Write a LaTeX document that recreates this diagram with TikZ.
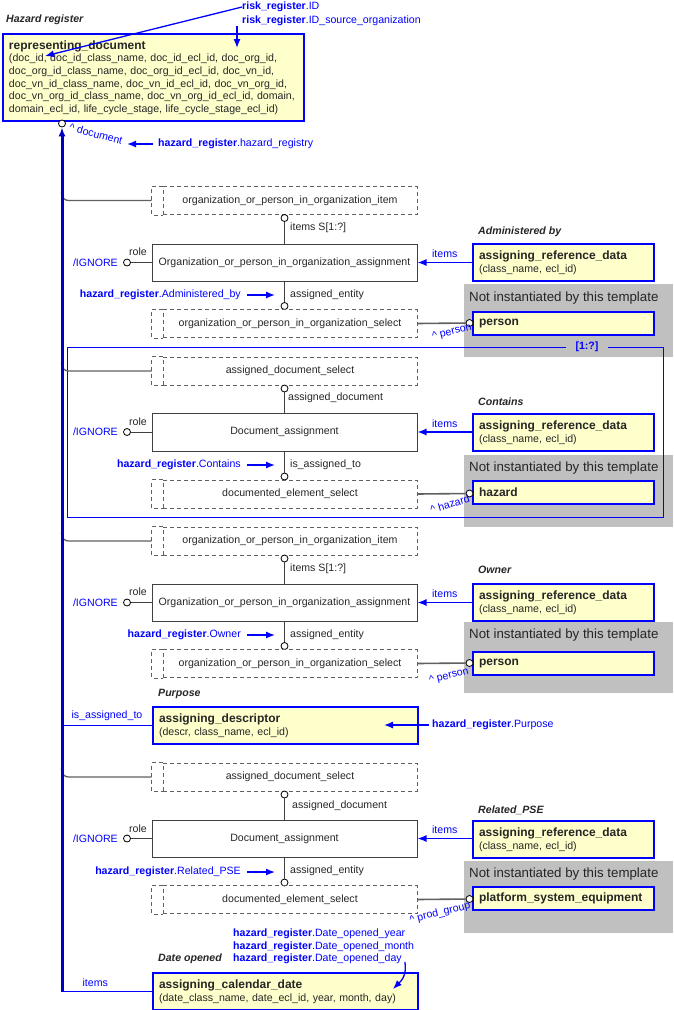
\documentclass[tikz,border=0pt]{standalone}
\usepackage{fontspec}
\setmainfont{Liberation Sans}
\usetikzlibrary{positioning,arrows.meta}
\definecolor{noteyellow}{HTML}{FFFFCC}
\definecolor{notgray}{HTML}{C0C0C0}
\definecolor{linegray}{HTML}{606060}
\newcommand{\hdr}[1]{{\fontsize{12}{14}\selectfont\bfseries #1}}
\newcommand{\reg}{\textbf{hazard\_register}}

\begin{document}
\begin{tikzpicture}[x=1pt, y=-1pt,
    every node/.style={font=\fontsize{10.6}{12.6}\selectfont, inner sep=0pt, text=black!85},
    ybox/.style={draw=blue, line width=2pt, fill=noteyellow, anchor=north west, align=left, inner xsep=6pt},
    selbox/.style={draw=linegray, dash pattern=on 4pt off 3pt, line width=1pt, minimum width=254pt, minimum height=28pt},
    selline/.style={draw=linegray, dash pattern=on 4pt off 3pt, line width=1pt},
    abox/.style={draw=black!75, line width=1pt, minimum width=265pt, minimum height=37pt},
    notbox/.style={fill=notgray, anchor=north west, minimum width=209pt},
    nottext/.style={anchor=west, font=\fontsize{13.3}{15}\selectfont},
    dot/.style={circle, draw=black, fill=white, line width=0.8pt, minimum size=7pt},
    ttl/.style={anchor=west, font=\fontsize{10.6}{12.6}\selectfont\bfseries\itshape},
    lbl/.style={anchor=west},
    blbl/.style={text=blue},
    rel/.style={draw=black!75, line width=1pt},
    side/.style={draw=linegray, line width=1.6pt},
    branch/.style={draw=linegray, line width=1.3pt, rounded corners=7pt},
    bline/.style={draw=blue, line width=1.3pt},
    vline/.style={draw=blue!75!black, line width=3pt},
    barrow/.style={draw=blue, line width=1.3pt, -{Latex[length=9pt,width=7pt]}},
]
\useasboundingbox (0,0) rectangle (673,1010);

\node[ttl] (hztitle) at (6,20) {Hazard register};
\node[ybox, text width=289pt, minimum height=87pt] (repdoc) at (2,33) {\hdr{representing\_document}\\(doc\_id, doc\_id\_class\_name, doc\_id\_ecl\_id, doc\_org\_id,\\doc\_org\_id\_class\_name, doc\_org\_id\_ecl\_id, doc\_vn\_id,\\doc\_vn\_id\_class\_name, doc\_vn\_id\_ecl\_id, doc\_vn\_org\_id,\\doc\_vn\_org\_id\_class\_name, doc\_vn\_org\_id\_ecl\_id, domain,\\domain\_ecl\_id, life\_cycle\_stage, life\_cycle\_stage\_ecl\_id)};
\node[lbl, blbl] (rrid) at (242,7) {\textbf{risk\_register}.ID};
\node[lbl, blbl] (rrsrc) at (242,20.5) {\textbf{risk\_register}.ID\_source\_organization};
\coordinate (docid) at (45,56);
\coordinate (srcorg) at (237,48);
\draw[barrow] (rrid.west) -- (docid);
\draw[barrow] (rrsrc.south west -| srcorg) -- (srcorg);

\node[dot] (docend) at (62,123.5) {};
\node[blbl, rotate=-15] (doclbl) at (96,134) {\textasciicircum\ document};
\node[lbl, blbl] (hreg) at (158,144) {\reg.hazard\_registry};
\draw[barrow] ([xshift=-5pt]hreg.west) -- ([xshift=-31pt]hreg.west);

\node[selbox] (item1) at (290,200.5) {organization\_or\_person\_in\_organization\_item};
\node[dot] (item1c) at (284.5,218) {};
\node[lbl] at (290,228) {items S[1:?]};
\node[abox] (ooa1) at (284.5,262.5) {Organization\_or\_person\_in\_organization\_assignment};
\draw[rel] (item1c) -- (ooa1);
\node[dot] (role1c) at (127,262.5) {};
\node[lbl] at (129,252) {role};
\node[lbl, anchor=east, blbl] at (118,262.5) {/IGNORE};
\draw[rel] (role1c) -- (ooa1);
\node[ttl] at (478,232) {Administered by};
\node[ybox, text width=169pt, minimum height=37pt] (ard1) at (472,243) {\hdr{assigning\_reference\_data}\\(class\_name, ecl\_id)};
\draw[barrow] (ard1.west |- ooa1) -- (ooa1.east) node[midway, above=4pt, blbl] {items};
\node[lbl, anchor=east, blbl] (hadm) at (241,295) {\reg.Administered\_by};
\draw[barrow] ([xshift=6pt]hadm.east) -- ([xshift=34pt]hadm.east);
\node[lbl] at (290,295) {assigned\_entity};
\node[dot] (sel1c) at (284.5,306) {};
\draw[rel] (ooa1) -- (sel1c);
\node[selbox] (sel1) at (290,323.5) {organization\_or\_person\_in\_organization\_select};
\node[notbox, minimum height=73pt] (ni1) at (464,284) {};
\node[nottext] at ([xshift=5pt,yshift=-14pt]ni1.north west) {Not instantiated by this template};
\node[ybox, text width=169pt, minimum height=23pt] (pers1) at (472,311) {\hdr{person}};
\node[dot] (pers1c) at (469.5,323) {};
\draw[side] (sel1.east) -- (pers1c);
\node[blbl, rotate=14] at (452,332) {\textasciicircum\ person};

\node[selbox] (ads1) at (290,371) {assigned\_document\_select};
\node[dot] (ads1c) at (284.5,388.5) {};
\node[lbl] at (288,398) {assigned\_document};
\node[abox, minimum height=38pt] (da1) at (284.5,432) {Document\_assignment};
\draw[rel] (ads1c) -- (da1);
\node[dot] (role2c) at (127,432) {};
\node[lbl] at (129,422) {role};
\node[lbl, anchor=east, blbl] at (118,432) {/IGNORE};
\draw[rel] (role2c) -- (da1);
\node[ttl] at (478,402) {Contains};
\node[ybox, text width=169pt, minimum height=37pt] (ard2) at (472,413) {\hdr{assigning\_reference\_data}\\(class\_name, ecl\_id)};
\draw[barrow] (ard2.west |- da1) -- (da1.east) node[midway, above=4pt, blbl] {items};
\node[lbl, anchor=east, blbl] (hcon) at (241,465) {\reg.Contains};
\draw[barrow] ([xshift=6pt]hcon.east) -- ([xshift=34pt]hcon.east);
\node[lbl] at (290,465) {is\_assigned\_to};
\node[dot] (des1c) at (284.5,476.5) {};
\draw[rel] (da1) -- (des1c);
\node[selbox] (des1) at (290,494) {documented\_element\_select};
\node[notbox, minimum height=72pt] (ni2) at (464,455) {};
\node[nottext] at ([xshift=5pt,yshift=-13.5pt]ni2.north west) {Not instantiated by this template};
\node[ybox, text width=169pt, minimum height=23pt] (haz) at (472,480) {\hdr{hazard}};
\node[dot] (hazc) at (469.5,493.5) {};
\draw[side] (des1.east) -- (hazc);
\node[blbl, rotate=16] at (450,504) {\textasciicircum\ hazard};

\node[blbl, font=\fontsize{10.6}{12.6}\selectfont\bfseries, inner xsep=9pt] (mult) at (587,347) {[1:?]};
\draw[bline, line width=1pt] (mult.west) -- (67,347) |- (663,517) |- (mult.east);

\node[selbox] (item2) at (290,541) {organization\_or\_person\_in\_organization\_item};
\node[dot] (item2c) at (284.5,558.5) {};
\node[lbl] at (290,569) {items S[1:?]};
\node[abox] (ooa2) at (284.5,602.5) {Organization\_or\_person\_in\_organization\_assignment};
\draw[rel] (item2c) -- (ooa2);
\node[dot] (role3c) at (127,602.5) {};
\node[lbl] at (129,592) {role};
\node[lbl, anchor=east, blbl] at (118,602.5) {/IGNORE};
\draw[rel] (role3c) -- (ooa2);
\node[ttl] at (478,570) {Owner};
\node[ybox, text width=169pt, minimum height=37pt] (ard3) at (472,583) {\hdr{assigning\_reference\_data}\\(class\_name, ecl\_id)};
\draw[barrow] (ard3.west |- ooa2) -- (ooa2.east) node[midway, above=4pt, blbl] {items};
\node[lbl, anchor=east, blbl] (hown) at (241,635) {\reg.Owner};
\draw[barrow] ([xshift=6pt]hown.east) -- ([xshift=34pt]hown.east);
\node[lbl] at (290,635) {assigned\_entity};
\node[dot] (sel2c) at (284.5,646) {};
\draw[rel] (ooa2) -- (sel2c);
\node[selbox] (sel2) at (290,663.5) {organization\_or\_person\_in\_organization\_select};
\node[notbox, minimum height=71pt] (ni4) at (464,622) {};
\node[nottext] at ([xshift=5pt,yshift=-13pt]ni4.north west) {Not instantiated by this template};
\node[ybox, text width=169pt, minimum height=23pt] (pers2) at (472,651) {\hdr{person}};
\node[dot] (pers2c) at (469.5,663) {};
\draw[side] (sel2.east) -- (pers2c);
\node[blbl, rotate=14] at (449,676) {\textasciicircum\ person};

\node[ttl] at (158,694) {Purpose};
\node[ybox, text width=253pt, minimum height=37pt] (purp) at (152,706) {\hdr{assigning\_descriptor}\\(descr, class\_name, ecl\_id)};
\draw[bline] (purp.west -| docend) -- (purp.west) node[midway, above=4pt, blbl] {is\_assigned\_to};
\node[lbl, blbl] (hpur) at (432,725) {\reg.Purpose};
\draw[barrow] ([xshift=-3pt]hpur.west) -- ([xshift=-48pt]hpur.west);

\node[selbox] (ads2) at (290,777) {assigned\_document\_select};
\node[dot] (ads2c) at (284.5,794.5) {};
\node[lbl] at (292,806) {assigned\_document};
\node[abox] (da2) at (284.5,838.5) {Document\_assignment};
\draw[rel] (ads2c) -- (da2);
\node[dot] (role4c) at (127,838.5) {};
\node[lbl] at (129,829) {role};
\node[lbl, anchor=east, blbl] at (118,838.5) {/IGNORE};
\draw[rel] (role4c) -- (da2);
\node[ttl] at (478,810) {Related\_PSE};
\node[ybox, text width=169pt, minimum height=37pt] (ard4) at (472,820) {\hdr{assigning\_reference\_data}\\(class\_name, ecl\_id)};
\draw[barrow] (ard4.west |- da2) -- (da2.east) node[midway, above=4pt, blbl] {items};
\node[lbl, anchor=east, blbl] (hrel) at (241,872) {\reg.Related\_PSE};
\draw[barrow] ([xshift=6pt]hrel.east) -- ([xshift=34pt]hrel.east);
\node[lbl] at (290,871) {assigned\_entity};
\node[dot] (des2c) at (284.5,882.5) {};
\draw[rel] (da2) -- (des2c);
\node[selbox] (des2) at (290,899.5) {documented\_element\_select};
\node[notbox, minimum height=72pt] (ni3) at (464,861) {};
\node[nottext] at ([xshift=5pt,yshift=-13pt]ni3.north west) {Not instantiated by this template};
\node[ybox, text width=169pt, minimum height=23pt] (pse) at (472,886) {\hdr{platform\_system\_equipment}};
\node[dot] (psec) at (469.5,899) {};
\draw[side] (des2.east) -- (psec);
\node[blbl, rotate=14] at (440,913) {\textasciicircum\ prod\_group};

\node[lbl, blbl] (dyear) at (233,934) {\reg.Date\_opened\_year};
\node[lbl, blbl] (dmonth) at (233,946.5) {\reg.Date\_opened\_month};
\node[lbl, blbl] (dday) at (233,959) {\reg.Date\_opened\_day};
\node[ttl] at (158,959) {Date opened};
\node[ybox, text width=253pt, minimum height=37pt] (cal) at (152,972) {\hdr{assigning\_calendar\_date}\\(date\_class\_name, date\_ecl\_id, year, month, day)};
\coordinate (caltip) at (393,989);
\draw[barrow] ([xshift=3pt,yshift=-3pt]dday.east) .. controls +(2,14) and +(8,-8) .. (caltip);

\foreach \n in {item1,sel1,ads1,des1,item2,sel2,ads2,des2}
    \draw[selline] (\n.north west) -- ++(-11,0) |- (\n.south west);
\foreach \n in {item1,ads1,item2,ads2}
    \draw[branch] ([xshift=-11pt]\n.west) -| ++(-90,-9);

\coordinate (vbot) at (docend |- cal.west);
\draw[vline, {Latex[length=9pt,width=7pt]}-] (docend) -- (vbot);
\draw[bline] (vbot) -- (cal.west) node[pos=0.37, above=4pt, blbl] {items};
\end{tikzpicture}
\end{document}
